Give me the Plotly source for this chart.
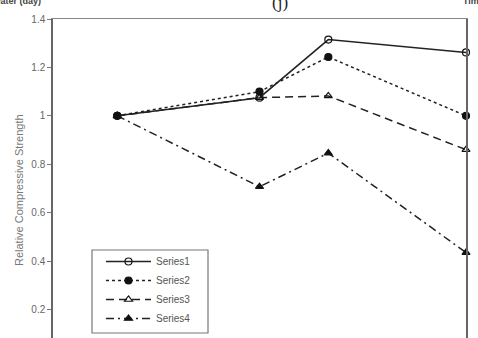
import plotly.graph_objects as go

days = [28, 90, 120, 180]
series1 = [1.0, 1.075, 1.315, 1.262]
series2 = [1.0, 1.10, 1.243, 1.0]
series3 = [1.0, 1.075, 1.082, 0.86]
series4 = [1.0, 0.707, 0.846, 0.435]
names = ["Series1", "Series2", "Series3", "Series4"]
y_ticks = [0.2, 0.4, 0.6, 0.8, 1.0, 1.2, 1.4]
y_tick_text = ["0.2", "0.4", "0.6", "0.8", "1", "1.2", "1.4"]

styles = [
    dict(dash="solid", symbol="circle-open"),
    dict(dash="dot", symbol="circle"),
    dict(dash="8px,5px", symbol="triangle-up-open"),
    dict(dash="8px,4px,2px,4px", symbol="triangle-up"),
]

fig = go.Figure()
for name, vals, st in zip(names, [series1, series2, series3, series4], styles):
    fig.add_trace(go.Scatter(
        x=days, y=vals, name=name, mode="lines+markers",
        line=dict(color="#222222", width=1.5, dash=st["dash"]),
        marker=dict(symbol=st["symbol"], size=7, color="#111111",
                    line=dict(color="#111111", width=1.2)),
        cliponaxis=False,
    ))

L, R, T, B = 53, 12, 19, 0
W, H = 478, 338
pw, ph = W - L - R, H - T - B


def px_x(p):
    return (p - L) / pw


def px_y(p):
    return (H - B - p) / ph


fig.add_shape(type="rect", xref="paper", yref="paper",
              x0=px_x(92), x1=px_x(208), y0=px_y(333), y1=px_y(250),
              line=dict(color="#777777", width=1.2), fillcolor="white",
              layer="below")

fig.update_layout(
    width=W, height=H,
    margin=dict(l=L, r=R, t=T, b=B, autoexpand=False),
    paper_bgcolor="white", plot_bgcolor="white",
    font=dict(family="Liberation Sans, Arial, sans-serif", color="#555555", size=10),
    showlegend=True,
    legend=dict(
        x=px_x(101), y=px_y(247), xanchor="left", yanchor="top",
        bgcolor="rgba(0,0,0,0)", borderwidth=0,
        font=dict(size=10, color="#555555"),
        tracegroupgap=0, itemwidth=45,
    ),
    xaxis=dict(range=[0, 180], showticklabels=False, ticks="",
               showgrid=False, zeroline=False, showline=True,
               linecolor="#888888", linewidth=1.2, mirror=True),
    yaxis=dict(range=[0.082, 1.4], tickvals=y_ticks, ticktext=y_tick_text,
               ticks="outside", ticklen=4, tickcolor="#777777",
               showgrid=False, zeroline=False, showline=True,
               linecolor="#666666", linewidth=1.5, mirror=True,
               tickfont=dict(size=10, color="#666666")),
    annotations=[
        dict(text="Relative Compressive Strength", xref="paper", yref="paper",
             x=px_x(19), y=px_y(190), textangle=-90, xanchor="center",
             yanchor="middle", showarrow=False,
             font=dict(size=11, color="#777777")),
        dict(text="(j)", xref="paper", yref="paper", x=px_x(280), y=px_y(2),
             xanchor="center", yanchor="middle", showarrow=False,
             font=dict(family="Liberation Serif, serif", size=17, color="#222222")),
        dict(text="<b>in water (day)</b>", xref="paper", yref="paper",
             x=px_x(43), y=px_y(1), xanchor="right", yanchor="middle",
             showarrow=False, font=dict(size=9, color="#444444")),
        dict(text="<b>Time</b>", xref="paper", yref="paper",
             x=px_x(461), y=px_y(1), xanchor="left", yanchor="middle",
             showarrow=False, font=dict(size=9, color="#444444")),
    ],
)

fig.write_html("out.html", config={"displayModeBar": False},
               post_script="document.body.style.margin='0';")
